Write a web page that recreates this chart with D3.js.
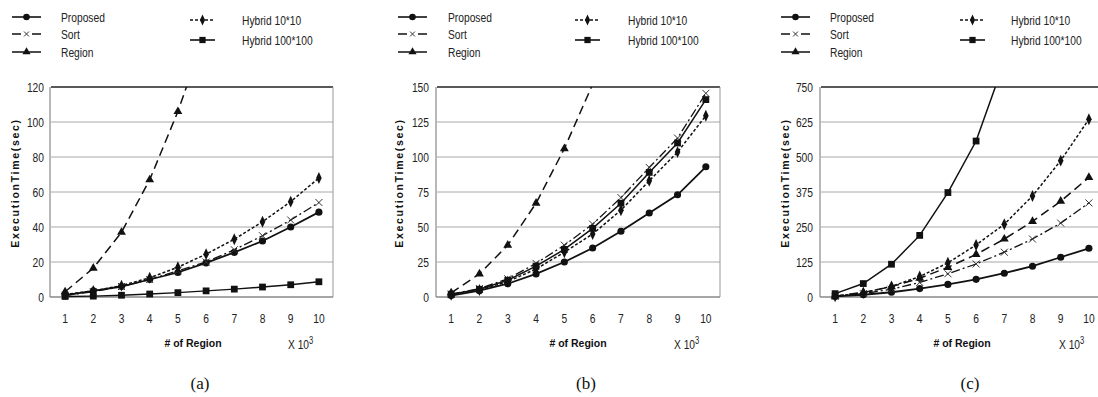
<!DOCTYPE html>
<html>
<head>
<meta charset="utf-8">
<script src="https://cdn.jsdelivr.net/npm/d3@7"></script>
<style>
  body { margin: 0; background: #fff; }
  svg { display: block; }
  .tick-label { font-family: "Liberation Sans", Arial, sans-serif; font-size: 13.5px; fill: #222; }
  .legend-label { font-family: "Liberation Sans", Arial, sans-serif; font-size: 13.5px; fill: #222; }
  .axis-title { font-family: "Liberation Sans", Arial, sans-serif; font-weight: bold; font-size: 10.5px; fill: #111; }
  .caption { font-family: "Liberation Serif", "Times New Roman", serif; font-size: 17px; fill: #111; }
</style>
</head>
<body>
<svg id="chart" width="1098" height="397"></svg>
<script>
// x categories (# of region, x 10^3)
const categories = [1, 2, 3, 4, 5, 6, 7, 8, 9, 10];
const seriesNames = ["Proposed", "Sort", "Region", "Hybrid 10*10", "Hybrid 100*100"];

// panel (a)
const aTicks = [0, 20, 40, 60, 80, 100, 120];
const aProposed = [1, 3.5, 6, 10, 14, 19.5, 25.5, 32, 40, 48.5];
const aSort = [1, 3, 6, 10, 15, 20, 27, 35, 44, 54];
const aRegion = [3, 16.5, 37, 67, 106, 152];
const aHybrid10 = [1.5, 3.5, 6.5, 11, 17, 24.5, 33, 43, 54.5, 68];
const aHybrid100 = [0.3, 0.5, 1, 1.7, 2.5, 3.5, 4.5, 5.7, 7, 8.7];

// panel (b)
const bTicks = [0, 25, 50, 75, 100, 125, 150];
const bProposed = [1, 4.5, 9.5, 16.5, 25, 35, 47, 60, 73, 93];
const bSort = [2, 6, 13, 24, 37, 52, 71, 92.5, 113.5, 145.5];
const bRegion = [3, 16.5, 37, 67, 106, 152];
const bHybrid10 = [1.5, 5, 11, 20, 32, 45, 62, 83, 103.5, 129.5];
const bHybrid100 = [2, 5.5, 12, 22, 34, 49, 67, 89, 110, 141];

// panel (c)
const cTicks = [0, 125, 250, 375, 500, 625, 750];
const cProposed = [2, 8, 17, 30, 45, 63, 85, 110, 142, 174];
const cSort = [2, 12, 28, 52, 83, 118, 160, 207, 264, 336];
const cRegion = [3, 16.5, 37, 67, 106, 152, 207, 270, 342, 427];
const cHybrid10 = [3, 15, 38, 73, 122, 186, 260, 361, 487, 635];
const cHybrid100 = [12, 48, 117, 220, 373, 557, 840];

// line/marker styles per series
const styles = {
    "Proposed":       { dash: null,      width: 1.8, marker: "circle",   legendDash: null },
    "Sort":           { dash: "9,3,2,3", width: 1.3, marker: "cross",    legendDash: "9,11" },
    "Region":         { dash: "9,5",     width: 1.5, marker: "triangle", legendDash: "12,5" },
    "Hybrid 10*10":   { dash: "3,2",     width: 1.5, marker: "diamond",  legendDash: "3,2" },
    "Hybrid 100*100": { dash: null,      width: 1.5, marker: "square",   legendDash: null }
};

const panels = [
    { tag: "(a)", ticks: aTicks, data: [aProposed, aSort, aRegion, aHybrid10, aHybrid100],
      plot: [51, 333], legL: 12, legLT: 61, legR: 190, legRT: 242, yTitleX: 15, tickR: 44,
      xTitleX: 193, x10X: 288, capX: 200 },
    { tag: "(b)", ticks: bTicks, data: [bProposed, bSort, bRegion, bHybrid10, bHybrid100],
      plot: [437, 720], legL: 398, legLT: 448, legR: 575, legRT: 628, yTitleX: 399, tickR: 429,
      xTitleX: 578, x10X: 674, capX: 586 },
    { tag: "(c)", ticks: cTicks, data: [cProposed, cSort, cRegion, cHybrid10, cHybrid100],
      plot: [821, 1103], legL: 781, legLT: 830, legR: 960, legRT: 1011, yTitleX: 785, tickR: 813,
      xTitleX: 962, x10X: 1059, capX: 970 }
];

const plotTop = 87, plotBottom = 297;
const narrow = 0.76; // the original uses a condensed face
const svg = d3.select("#chart");
svg.append("rect").attr("width", 1098).attr("height", 397).attr("fill", "#fff");

function drawMarker(g, type, x, y, s) {
    if (type === "cross") {
        const r = 3.5 * s;
        g.append("path")
            .attr("d", `M${x - r},${y - r}L${x + r},${y + r}M${x - r},${y + r}L${x + r},${y - r}`)
            .attr("stroke", "#333").attr("stroke-width", 1).attr("fill", "none");
        return;
    }
    const sym = { circle: d3.symbolCircle, triangle: d3.symbolTriangle, square: d3.symbolSquare, diamond: d3.symbolDiamond }[type];
    const size = { circle: 40, triangle: 34, square: 46, diamond: 34 }[type] * s;
    g.append("path")
        .attr("d", d3.symbol().type(sym).size(size)())
        .attr("transform", `translate(${x},${y})${type === "diamond" ? " scale(0.9,1.1)" : ""}`)
        .attr("fill", "#111");
}

panels.forEach((p, pi) => {
    const g = svg.append("g");
    const x = d3.scaleBand().domain(categories).range(p.plot);
    const cx = d => x(d) + x.bandwidth() / 2;
    const y = d3.scaleLinear().domain([p.ticks[0], p.ticks[p.ticks.length - 1]]).range([plotBottom, plotTop]);

    // gridlines
    g.selectAll(".grid").data(p.ticks.slice(1, -1)).join("line")
        .attr("x1", p.plot[0]).attr("x2", p.plot[1])
        .attr("y1", d => y(d)).attr("y2", d => y(d))
        .attr("stroke", "#a8a8a8").attr("stroke-width", 1);

    // frame
    g.append("line").attr("x1", p.plot[0]).attr("x2", p.plot[1]).attr("y1", plotTop).attr("y2", plotTop)
        .attr("stroke", "#222").attr("stroke-width", 1.5);
    g.append("line").attr("x1", p.plot[1]).attr("x2", p.plot[1]).attr("y1", plotTop).attr("y2", plotBottom)
        .attr("stroke", "#999").attr("stroke-width", 1);
    g.append("line").attr("x1", p.plot[0] - 1).attr("x2", p.plot[0] - 1).attr("y1", plotTop).attr("y2", plotBottom)
        .attr("stroke", "#888").attr("stroke-width", 1.2);
    g.append("line").attr("x1", p.plot[0] - 1).attr("x2", p.plot[1]).attr("y1", plotBottom).attr("y2", plotBottom)
        .attr("stroke", "#888").attr("stroke-width", 1.5);

    // y tick labels
    g.selectAll(".yt").data(p.ticks).join("text")
        .attr("class", "tick-label")
        .attr("transform", d => `translate(${p.tickR},${y(d)}) scale(${narrow},1)`)
        .attr("dy", "0.36em")
        .attr("text-anchor", "end").text(d => d);

    // x tick labels
    g.selectAll(".xt").data(categories).join("text")
        .attr("class", "tick-label")
        .attr("transform", d => `translate(${cx(d)},323) scale(${narrow},1)`)
        .attr("text-anchor", "middle").text(d => d);

    // titles
    g.append("text").attr("class", "axis-title")
        .attr("transform", `translate(${p.yTitleX + 4},183) rotate(-90)`)
        .attr("text-anchor", "middle").attr("letter-spacing", "1.7px")
        .attr("font-size", "11.5px")
        .text("ExecutionTime(sec)");
    g.append("text").attr("class", "axis-title")
        .attr("x", p.xTitleX).attr("y", 347).attr("text-anchor", "middle")
        .text("# of Region");
    const xt = g.append("text").attr("class", "tick-label")
        .attr("transform", `translate(${p.x10X},349) scale(${narrow},1)`)
        .attr("font-size", "14.5px");
    xt.append("tspan").text("X 10");
    xt.append("tspan").attr("dy", -5).attr("font-size", "10px").text("3");
    g.append("text").attr("class", "caption")
        .attr("x", p.capX).attr("y", 389).attr("text-anchor", "middle").text(p.tag);

    // series, clipped to plot area
    const clipId = "clip" + pi;
    svg.append("clipPath").attr("id", clipId).append("rect")
        .attr("x", p.plot[0] - 6).attr("y", plotTop).attr("width", p.plot[1] - p.plot[0] + 12).attr("height", plotBottom - plotTop + 6);
    const sg = g.append("g").attr("clip-path", `url(#${clipId})`);
    const line = d3.line().x((d, i) => cx(categories[i])).y(d => y(d));

    seriesNames.forEach((name, si) => {
        const st = styles[name];
        const vals = p.data[si];
        sg.append("path").datum(vals)
            .attr("d", line)
            .attr("fill", "none").attr("stroke", "#111")
            .attr("stroke-width", st.width)
            .attr("stroke-dasharray", st.dash);
        vals.forEach((v, i) => {
            if (y(v) >= plotTop - 2) drawMarker(sg, st.marker, cx(categories[i]), y(v), 1);
        });
    });

    // legend
    const rows = [
        { name: "Proposed", lx: p.legL, len: 29, tx: p.legLT, y: 17 },
        { name: "Sort", lx: p.legL, len: 29, tx: p.legLT, y: 34 },
        { name: "Region", lx: p.legL, len: 29, tx: p.legLT, y: 52 },
        { name: "Hybrid 10*10", lx: p.legR, len: 25, tx: p.legRT, y: 20 },
        { name: "Hybrid 100*100", lx: p.legR, len: 25, tx: p.legRT, y: 40 }
    ];
    rows.forEach(r => {
        const st = styles[r.name];
        g.append("line")
            .attr("x1", r.lx).attr("x2", r.lx + r.len).attr("y1", r.y).attr("y2", r.y)
            .attr("stroke", "#111").attr("stroke-width", 1.6)
            .attr("stroke-dasharray", st.legendDash);
        drawMarker(g, st.marker, r.lx + r.len / 2, r.y, r.name === "Sort" ? 0.7 : 0.85);
        g.append("text").attr("class", "legend-label")
            .attr("transform", `translate(${r.tx},${r.y}) scale(${narrow},1)`)
            .attr("dy", "0.36em").text(r.name);
    });
});
</script>
</body>
</html>
